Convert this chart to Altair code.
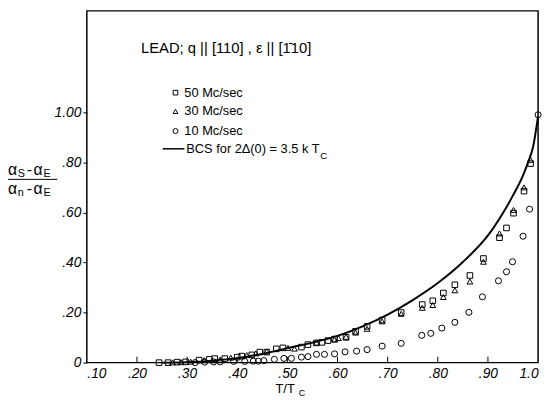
import altair as alt
import pandas as pd

# ---------------- data ----------------
sq_x = [0.244, 0.262, 0.280, 0.297, 0.324, 0.344, 0.355, 0.375, 0.400, 0.409, 0.429, 0.445,
        0.459, 0.478, 0.491, 0.528, 0.541, 0.558, 0.569, 0.581, 0.594, 0.617, 0.636, 0.659,
        0.689, 0.727, 0.769, 0.790, 0.811, 0.834, 0.864, 0.891, 0.923, 0.937, 0.951, 0.972, 0.985]
sq_y = [0.000, 0.000, 0.002, 0.003, 0.010, 0.013, 0.016, 0.016, 0.022, 0.026, 0.031, 0.042,
        0.042, 0.055, 0.059, 0.062, 0.072, 0.079, 0.081, 0.088, 0.094, 0.101, 0.125, 0.145,
        0.170, 0.200, 0.232, 0.247, 0.278, 0.311, 0.348, 0.416, 0.499, 0.538, 0.597, 0.685, 0.795]

tri_x = [0.271, 0.288, 0.307, 0.334, 0.366, 0.387, 0.419, 0.437, 0.459, 0.501, 0.514, 0.558,
         0.594, 0.602, 0.617, 0.636, 0.659, 0.689, 0.727, 0.769, 0.790, 0.811, 0.834, 0.864,
         0.891, 0.923, 0.951, 0.972, 0.985]
tri_y = [0.001, 0.002, 0.004, 0.010, 0.012, 0.020, 0.030, 0.037, 0.045, 0.059, 0.056, 0.080,
         0.092, 0.098, 0.103, 0.120, 0.135, 0.165, 0.195, 0.219, 0.230, 0.262, 0.289, 0.324,
         0.403, 0.516, 0.610, 0.700, 0.810]

cir_x = [0.316, 0.335, 0.353, 0.366, 0.393, 0.415, 0.432, 0.442, 0.453, 0.474, 0.493, 0.508,
         0.528, 0.541, 0.558, 0.574, 0.594, 0.615, 0.638, 0.659, 0.689, 0.727, 0.768, 0.786,
         0.808, 0.834, 0.862, 0.889, 0.921, 0.937, 0.949, 0.970, 0.983, 1.000]
cir_y = [0.000, 0.002, 0.003, 0.003, 0.005, 0.005, 0.006, 0.006, 0.008, 0.013, 0.017, 0.017,
         0.022, 0.024, 0.033, 0.033, 0.035, 0.043, 0.046, 0.052, 0.066, 0.077, 0.109, 0.117,
         0.138, 0.161, 0.201, 0.263, 0.327, 0.363, 0.403, 0.505, 0.613, 0.990]

bcs_x = [0.25, 0.30, 0.35, 0.40, 0.45, 0.50, 0.55, 0.60, 0.65, 0.70, 0.75, 0.80, 0.85,
         0.90, 0.93, 0.95, 0.97, 0.98, 0.99, 1.00]
bcs_y = [0.000, 0.002, 0.008, 0.018, 0.035, 0.058, 0.080, 0.107, 0.145, 0.192, 0.250, 0.318,
         0.402, 0.508, 0.598, 0.668, 0.748, 0.800, 0.862, 0.985]

x_ticks = [0.1, 0.2, 0.3, 0.4, 0.5, 0.6, 0.7, 0.8, 0.9, 1.0]
x_tick_labels = [".10", ".20", ".30", ".40", ".50", ".60", ".70", ".80", ".90", "1.0"]
y_ticks = [0.0, 0.2, 0.4, 0.6, 0.8, 1.0]
y_tick_labels = ["0", ".20", ".40", ".60", ".80", "1.00"]

legend_labels = ["50 Mc/sec", "30 Mc/sec", "10 Mc/sec"]
title_text = "LEAD; q || [110] , \u03b5 || [1\u030410]"
bcs_label = "BCS for 2\u0394(0) = 3.5 k T"

# ---------------- layout ----------------
W, H = 458, 357
FONT = "Liberation Sans"

xs = alt.Scale(domain=[0.1, 1.0], nice=False)
ys = alt.Scale(domain=[0.0, 1.405], nice=False)

x_expr = "[" + ",".join("'%s'" % s for s in x_tick_labels) + "][round(datum.value*10)-1]"
y_expr = "[" + ",".join("'%s'" % s for s in y_tick_labels) + "][round(datum.value*5)]"

x_axis = alt.Axis(values=x_ticks, labelExpr=x_expr, title=None, ticks=False, tickSize=0,
                  domain=False, grid=False, labelPadding=4, labelFont=FONT, labelFontSize=14,
                  labelFontStyle="italic", labelColor="black")
y_axis = alt.Axis(values=y_ticks, labelExpr=y_expr, title=None, ticks=True, tickSize=4,
                  tickColor="black", domain=False, grid=False, labelPadding=2, labelFont=FONT,
                  labelFontSize=14, labelFontStyle="italic", labelColor="black")

df_sq = pd.DataFrame({"x": sq_x, "y": sq_y})
df_tri = pd.DataFrame({"x": tri_x, "y": tri_y})
df_cir = pd.DataFrame({"x": cir_x, "y": cir_y})
df_bcs = pd.DataFrame({"x": bcs_x, "y": bcs_y})
df_xt = pd.DataFrame({"x": x_ticks[1:-1]})

curve = alt.Chart(df_bcs).mark_line(color="black", strokeWidth=2, interpolate="monotone").encode(
    x=alt.X("x:Q", scale=xs, axis=x_axis), y=alt.Y("y:Q", scale=ys, axis=y_axis))

pt_style = dict(filled=False, color="black", strokeWidth=1, opacity=1)
squares = alt.Chart(df_sq).mark_point(shape="square", size=32, **pt_style).encode(
    x=alt.X("x:Q", scale=xs), y=alt.Y("y:Q", scale=ys))
triangles = alt.Chart(df_tri).mark_point(shape="triangle-up", size=34, **pt_style).encode(
    x=alt.X("x:Q", scale=xs), y=alt.Y("y:Q", scale=ys))
circles = alt.Chart(df_cir).mark_point(shape="circle", size=38, **pt_style).encode(
    x=alt.X("x:Q", scale=xs), y=alt.Y("y:Q", scale=ys))

xticks_in = alt.Chart(df_xt).mark_rule(color="black", strokeWidth=1).encode(
    x=alt.X("x:Q", scale=xs), y=alt.value(H), y2=alt.value(H - 6))

one = pd.DataFrame({"a": [0]})


def txt(s, x, y, size=14, align="left", style="normal", baseline="middle"):
    return alt.Chart(one).mark_text(text=s, font=FONT, fontSize=size, fontStyle=style,
                                    align=align, baseline=baseline, color="black").encode(
        x=alt.value(x), y=alt.value(y))


def sym(shape, x, y, size):
    return alt.Chart(one).mark_point(shape=shape, size=size, **pt_style).encode(
        x=alt.value(x), y=alt.value(y))


layers = [xticks_in, curve, circles, triangles, squares]

# title block
layers.append(txt(title_text, 55, 38, size=15))
# legend
layers.append(sym("square", 90, 83, 22))
layers.append(txt(legend_labels[0], 99, 83, size=13))
layers.append(sym("triangle-up", 90, 102, 24))
layers.append(txt(legend_labels[1], 99, 102, size=13))
layers.append(sym("circle", 90, 122, 26))
layers.append(txt(legend_labels[2], 99, 122, size=13))
layers.append(alt.Chart(one).mark_rule(color="black", strokeWidth=1.5).encode(
    x=alt.value(77), x2=alt.value(99), y=alt.value(140)))
layers.append(txt(bcs_label, 101, 140, size=13))
layers.append(txt("C", 237, 147, size=10))

# y-axis title (fraction)
layers.append(txt("\u03b1", -80, 162, size=16))
layers.append(txt("S", -70, 166, size=11))
layers.append(txt("-", -61, 162, size=16))
layers.append(txt("\u03b1", -54, 162, size=16))
layers.append(txt("E", -44, 166, size=11))
layers.append(alt.Chart(one).mark_rule(color="black", strokeWidth=1).encode(
    x=alt.value(-82), x2=alt.value(-30), y=alt.value(171)))
layers.append(txt("\u03b1", -80, 181, size=16))
layers.append(txt("n", -70, 185, size=11))
layers.append(txt("-", -61, 181, size=16))
layers.append(txt("\u03b1", -54, 181, size=16))
layers.append(txt("E", -44, 185, size=11))

# x-axis title
layers.append(txt("T/T", 211, 384, size=13, align="right"))
layers.append(txt("C", 215, 388, size=9))

chart = alt.layer(*layers).properties(
    width=W, height=H,
    autosize=alt.AutoSizeParams(type="none"),
    padding={"left": 80, "top": 0, "right": 6, "bottom": 35},
    background="white",
).configure_view(stroke="black", strokeWidth=1.5)

chart.save("out.html", embed_options={"renderer": "svg", "actions": False})
